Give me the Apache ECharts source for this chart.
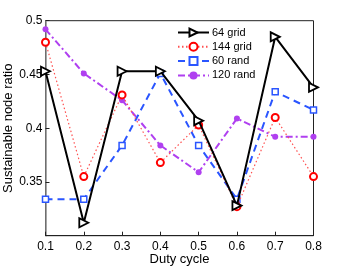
<!DOCTYPE html>
<html><head><meta charset="utf-8">
<script src="https://cdn.jsdelivr.net/npm/echarts@6/dist/echarts.min.js"></script>
<style>html,body{margin:0;padding:0;background:#fff}#c{width:346px;height:267px}</style>
</head><body><div id="c"></div>
<script>
const dutyCycle = [0.1, 0.2, 0.3, 0.4, 0.5, 0.6, 0.7, 0.8];
const grid64 = [0.453, 0.312, 0.453, 0.453, 0.407, 0.328, 0.485, 0.438];
const grid144 = [0.480, 0.355, 0.431, 0.368, 0.403, 0.327, 0.410, 0.355];
const rand60 = [0.334, 0.334, 0.384, 0.451, 0.384, 0.334, 0.434, 0.417];
const rand120 = [0.492, 0.451, 0.426, 0.384, 0.359, 0.409, 0.392, 0.392];
const yTicks = [0.35, 0.4, 0.45, 0.5];

const pairs = arr => dutyCycle.map((x, i) => [x, arr[i]]);
const font = 'Liberation Sans, Arial, sans-serif';
const chart = echarts.init(document.getElementById('c'), null, {renderer: 'canvas'});
chart.setOption({
  animation: false,
  backgroundColor: '#fff',
  grid: {left: 45.5, right: 32.5, top: 20.7, bottom: 31.3, show: true, borderColor: '#222', borderWidth: 1,
    containLabel: false, outerBoundsMode: 'none'},
  legend: {
    orient: 'vertical', left: 177, top: 27, padding: 0, itemGap: 3.3, itemWidth: 31, itemHeight: 10,
    textStyle: {fontFamily: font, fontSize: 11, color: '#000', padding: [0, 0, 0, -2]},
    data: ['64 grid', '144 grid', '60 rand', '120 rand']
  },
  xAxis: {
    type: 'value', min: 0.1, max: 0.8, interval: 0.1,
    name: 'Duty cycle', nameLocation: 'middle', nameGap: 17, nameMoveOverlap: false,
    nameTextStyle: {fontFamily: font, fontSize: 13, color: '#000'},
    axisLine: {show: true, lineStyle: {color: '#222', width: 1}},
    axisTick: {show: true, inside: true, length: 4, lineStyle: {color: '#222'}},
    axisLabel: {fontFamily: font, fontSize: 12, color: '#000', margin: 5,
      formatter: v => (+v).toFixed(1)},
    splitLine: {show: false}
  },
  yAxis: {
    type: 'value', min: 0.3, max: 0.5, interval: 0.05,
    name: 'Sustainable node ratio', nameLocation: 'middle', nameGap: 31, nameMoveOverlap: false,
    nameTextStyle: {fontFamily: font, fontSize: 13, color: '#000'},
    axisLine: {show: true, lineStyle: {color: '#888', width: 1.5}},
    axisTick: {show: true, inside: true, length: 4, lineStyle: {color: '#222'}},
    axisLabel: {fontFamily: font, fontSize: 12, color: '#000', margin: 3,
      formatter: v => {
        const t = yTicks.find(y => Math.abs(y - v) < 1e-6);
        return t === undefined ? '' : String(t);
      }},
    splitLine: {show: false}
  },
  series: [
    {name: '64 grid', type: 'line', data: pairs(grid64), symbol: 'triangle', symbolRotate: -90, symbolSize: 9,
      lineStyle: {color: '#000', width: 2}, itemStyle: {color: '#fff', borderColor: '#000', borderWidth: 1.8},
      z: 5},
    {name: '144 grid', type: 'line', data: pairs(grid144), symbol: 'circle', symbolSize: 7,
      lineStyle: {color: '#ff5050', width: 1.2, type: [1.5, 2.5]}, itemStyle: {color: '#fff', borderColor: '#ff0000', borderWidth: 2},
      z: 4},
    {name: '60 rand', type: 'line', data: pairs(rand60), symbol: 'rect', symbolSize: 6,
      lineStyle: {color: '#2a55ff', width: 2, type: [7, 5]}, itemStyle: {color: '#fff', borderColor: '#2a55ff', borderWidth: 1.5},
      z: 3},
    {name: '120 rand', type: 'line', data: pairs(rand120), symbol: 'circle', symbolSize: 6,
      lineStyle: {color: '#b040f0', width: 2, type: [7, 3, 2, 3]}, itemStyle: {color: '#b040f0', borderColor: '#b040f0', borderWidth: 0},
      z: 2}
  ]
});
</script></body></html>
